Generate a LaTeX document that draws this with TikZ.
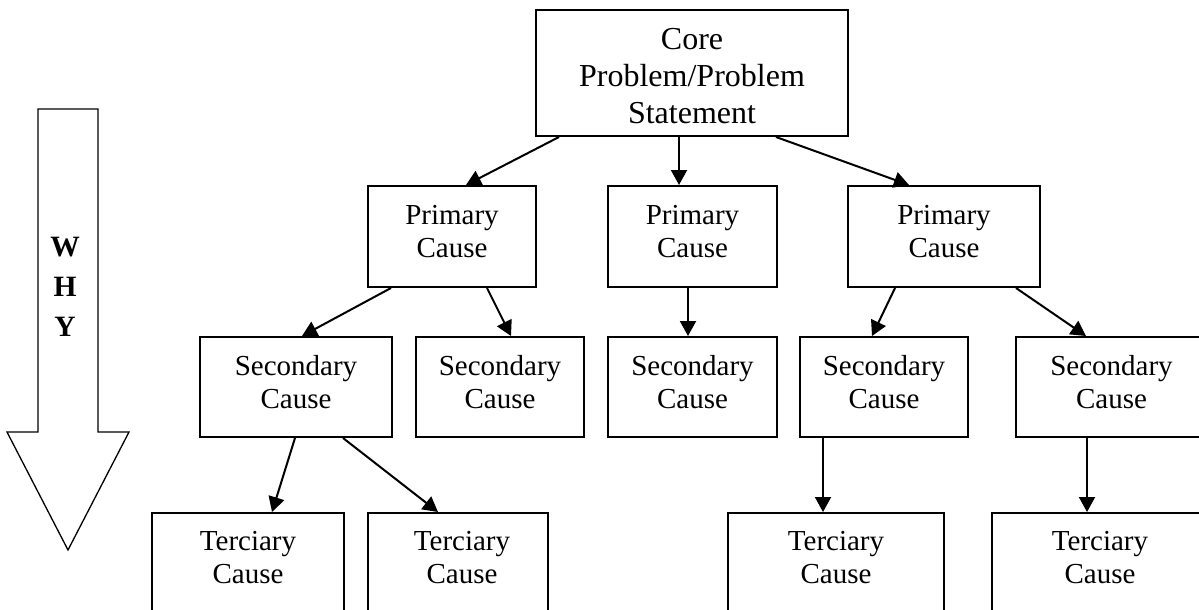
\documentclass[tikz,border=0pt]{standalone}
\usepackage{fontspec}
\setmainfont{Liberation Serif}
\usetikzlibrary{arrows.meta,calc}
\begin{document}
\begin{tikzpicture}[x=1pt,y=-1pt,
  box/.style={draw, line width=2pt, inner sep=0pt, rectangle},
  txt/.style={align=center, inner sep=0pt, font=\fontsize{29}{33}\selectfont},
  coretxt/.style={align=center, inner sep=0pt, font=\fontsize{32}{37}\selectfont},
  whytxt/.style={align=center, inner sep=0pt, font=\fontsize{29.5}{40}\selectfont\bfseries},
  arr/.style={line width=2pt, -{Triangle[length=15pt,width=16pt]}},
  bigarrow/.style={draw, line width=1.3pt, line join=miter},
]
\useasboundingbox (0,0) rectangle (1199,610);
\clip (0,0) rectangle (1199,610);
\fill[white] (0,0) rectangle (1199,610);

% WHY arrow
\draw[bigarrow] (38,109) -- (98,109) -- (98,432) -- (129,432) -- (68,550) -- (7,432) -- (38,432) -- cycle;
\node[whytxt] (why) at (65,287) {W\\H\\Y};

% boxes
\node[box, minimum width=312pt, minimum height=126pt] (core) at (692,73) {};
\node[box, minimum width=168pt, minimum height=101pt] (p1) at (452,236.5) {};
\node[box, minimum width=169pt, minimum height=101pt] (p2) at (692.5,236.5) {};
\node[box, minimum width=192pt, minimum height=101pt] (p3) at (944,236.5) {};
\node[box, minimum width=192pt, minimum height=100pt] (s1) at (296,387) {};
\node[box, minimum width=168pt, minimum height=100pt] (s2) at (500,387) {};
\node[box, minimum width=169pt, minimum height=100pt] (s3) at (692.5,387) {};
\node[box, minimum width=168pt, minimum height=100pt] (s4) at (884,387) {};
\node[box, minimum width=191pt, minimum height=100pt] (s5) at (1111.5,387) {};
\node[box, minimum width=192pt, minimum height=137pt] (t1) at (248,581.5) {};
\node[box, minimum width=180pt, minimum height=137pt] (t2) at (458,581.5) {};
\node[box, minimum width=216pt, minimum height=137pt] (t3) at (836,581.5) {};
\node[box, minimum width=216pt, minimum height=137pt] (t4) at (1100,581.5) {};

% texts
\node[coretxt] (coretext) at (692,76.5) {Core\\Problem/Problem\\Statement};
\node[txt] (p1text) at (452,231.5) {Primary\\Cause};
\node[txt] (p2text) at (692.5,231.5) {Primary\\Cause};
\node[txt] (p3text) at (944,231.5) {Primary\\Cause};
\node[txt] (s1text) at (296,382) {Secondary\\Cause};
\node[txt] (s2text) at (500,382) {Secondary\\Cause};
\node[txt] (s3text) at (692.5,382) {Secondary\\Cause};
\node[txt] (s4text) at (884,382) {Secondary\\Cause};
\node[txt] (s5text) at (1111.5,382) {Secondary\\Cause};
\node[txt] (t1text) at (248,558) {Terciary\\Cause};
\node[txt] (t2text) at (462,558) {Terciary\\Cause};
\node[txt] (t3text) at (836,558) {Terciary\\Cause};
\node[txt] (t4text) at (1100,558) {Terciary\\Cause};

% connectors
\draw[arr] ([xshift=24pt]core.south west) -- ([xshift=99pt]p1.north west);
\draw[arr] ([xshift=144pt]core.south west) -- ([xshift=72pt]p2.north west);
\draw[arr] ([xshift=241pt]core.south west) -- ([xshift=62pt]p3.north west);
\draw[arr] ([xshift=24pt]p1.south west) -- ([xshift=103pt]s1.north west);
\draw[arr] ([xshift=120pt]p1.south west) -- ([xshift=96pt]s2.north west);
\draw[arr] ([xshift=81pt]p2.south west) -- ([xshift=81pt]s3.north west);
\draw[arr] ([xshift=48pt]p3.south west) -- ([xshift=73pt]s4.north west);
\draw[arr] ([xshift=169pt]p3.south west) -- ([xshift=71pt]s5.north west);
\draw[arr] ([xshift=96pt]s1.south west) -- ([xshift=121pt]t1.north west);
\draw[arr] ([xshift=144pt]s1.south west) -- ([xshift=71pt]t2.north west);
\draw[arr] ([xshift=24pt]s4.south west) -- ([xshift=96pt]t3.north west);
\draw[arr] ([xshift=72pt]s5.south west) -- ([xshift=96pt]t4.north west);
\end{tikzpicture}
\end{document}
